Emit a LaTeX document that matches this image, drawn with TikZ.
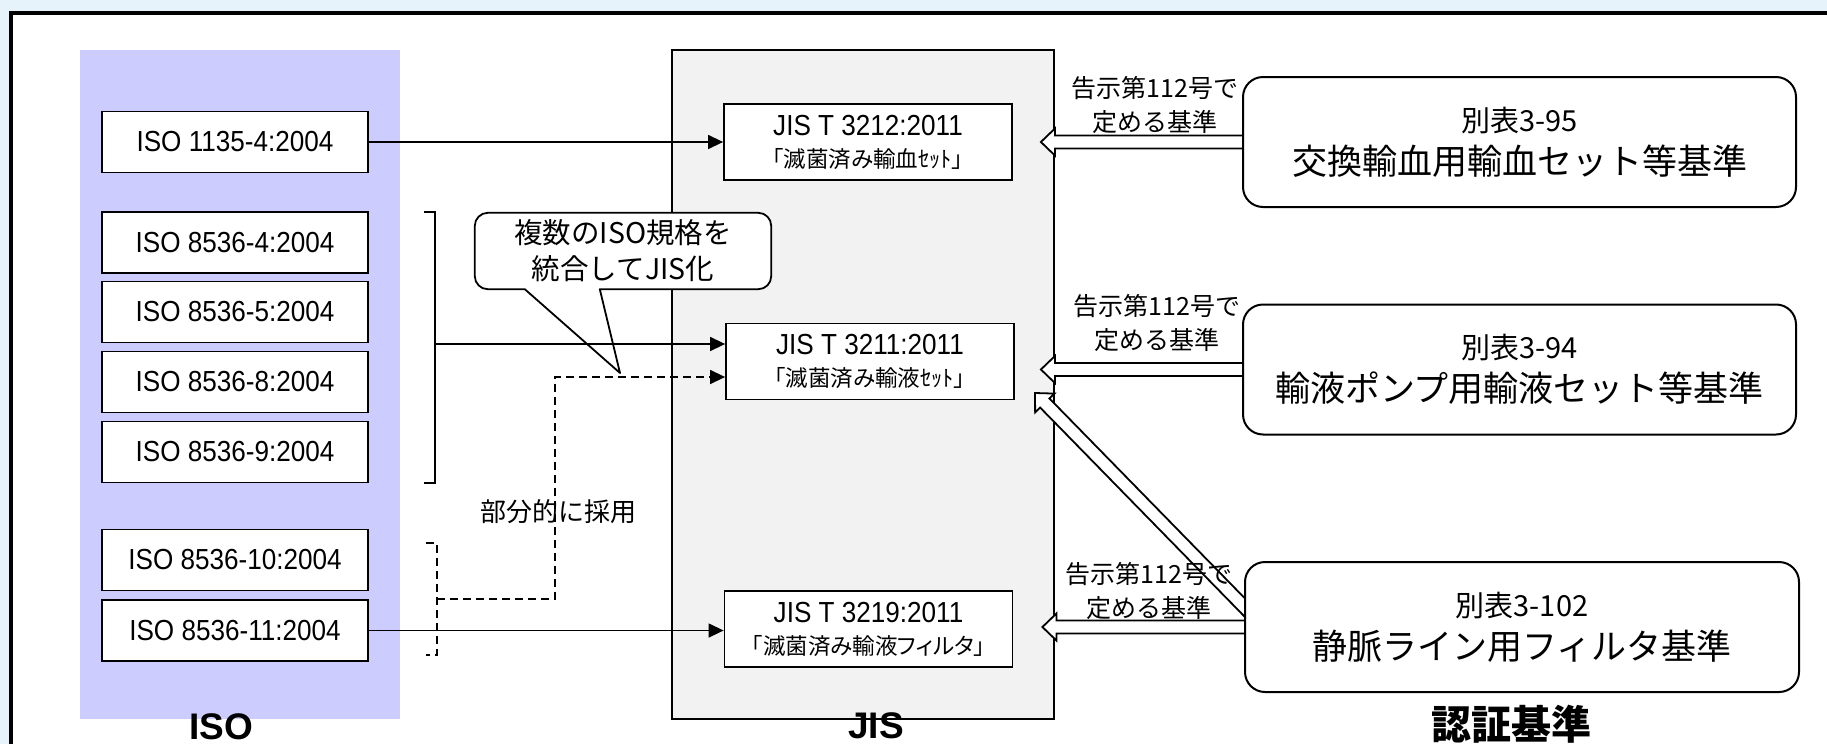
\documentclass[tikz,border=0pt]{standalone}
\usepackage{fontspec}
\setmainfont{Liberation Sans}
\newfontfamily\narrowsans[FakeStretch=0.9]{Liberation Sans}
\newfontfamily\jp{Noto Sans CJK JP}
\newfontfamily\jpp[RawFeature=+palt]{Noto Sans CJK JP}
\usetikzlibrary{arrows.meta,calc}
\definecolor{bgblue}{RGB}{230,243,250}
\definecolor{isofill}{RGB}{204,204,255}
\definecolor{jisfill}{RGB}{242,242,242}
\newcommand\fsz[2]{\fontsize{#1pt}{#2pt}\selectfont}
\newcommand{\blockarrow}[2]{%
\draw[barrow] let \p1=(#1), \p2=(#2), \n1={atan2(\y2-\y1,\x2-\x1)}, \n2={veclen(\x2-\x1,\y2-\y1)} in
 ([shift={(\p1)},rotate=\n1]0pt,-6.5pt) -- ([shift={(\p1)},rotate=\n1]\n2*1pt-14pt,-6.5pt)
 -- ([shift={(\p1)},rotate=\n1]\n2*1pt-14pt,-13.5pt) -- ([shift={(\p1)},rotate=\n1]\n2*1pt,0pt)
 -- ([shift={(\p1)},rotate=\n1]\n2*1pt-14pt,13.5pt) -- ([shift={(\p1)},rotate=\n1]\n2*1pt-14pt,6.5pt)
 -- ([shift={(\p1)},rotate=\n1]0pt,6.5pt) -- cycle;}
\begin{document}
\begin{tikzpicture}[x=1pt,y=-1pt,
  isobox/.style={draw, line width=1.6pt, fill=white, minimum width=266pt, minimum height=61pt, inner sep=0pt, font=\narrowsans\fsz{29}{34}},
  jisbox/.style={draw, line width=1.8pt, fill=white, minimum width=288pt, minimum height=76pt, inner sep=0pt, align=center, font=\narrowsans\fsz{29}{32}},
  jissub/.style={},
  critbox/.style={draw, line width=2pt, fill=white, rounded corners=20pt, minimum width=553pt, minimum height=130pt, inner sep=0pt, align=center, font=\jp\fsz{35}{43}},
  lbl/.style={inner sep=0pt, align=center, font=\jp\fsz{25}{34}},
  conn/.style={line width=1.4pt, -{Triangle[length=15pt,width=14pt]}},
  dconn/.style={conn, dash pattern=on 8pt off 5pt},
  barrow/.style={draw, fill=white, line width=1.8pt, line join=miter},
  hdr/.style={inner sep=0pt, font=\bfseries\fsz{37}{40}}
]
\useasboundingbox (0,0) rectangle (1827,744);
\fill[bgblue] (0,0) rectangle (1827,744);
\fill[white] (11,13) rectangle (1827,744);
\draw[line width=4pt] (11,744) -- (11,13) -- (1827,13);

% group panels
\node[fill=isofill, minimum width=320pt, minimum height=669pt, inner sep=0pt] (isogrp) at (240,384.5) {};
\node[draw, line width=1.8pt, fill=jisfill, minimum width=382pt, minimum height=669pt, inner sep=0pt] (jis) at (863,384.5) {};

% callout
\node[minimum width=296pt, minimum height=76pt, inner sep=0pt] (callout) at (623,251) {};
\coordinate (ctip) at (620,373);
\draw[line width=1.8pt, fill=white, line join=round] (ctip) -- ($(callout.south west)+(125,0)$)
  [rounded corners=13pt] -- (callout.south east) -- (callout.north east) -- (callout.north west) -- (callout.south west)
  [sharp corners] -- ($(callout.south west)+(50,0)$) -- cycle;
\node[lbl, font=\jp\fsz{28.5}{36}] (calltext) at (callout.center) {複数のISO規格を\\統合してJIS化};

% ISO boxes
\node[isobox] (iso1) at (235,142) {ISO 1135-4:2004};
\node[isobox] (iso2) at (235,242.5) {ISO 8536-4:2004};
\node[isobox] (iso3) at (235,312) {ISO 8536-5:2004};
\node[isobox] (iso4) at (235,382) {ISO 8536-8:2004};
\node[isobox] (iso5) at (235,452) {ISO 8536-9:2004};
\node[isobox] (iso6) at (235,560) {ISO 8536-10:2004};
\node[isobox] (iso7) at (235,630.5) {ISO 8536-11:2004};

% JIS boxes
\node[jisbox] (jA) at (868,142) {JIS T 3212:2011\\{\jpp\fsz{22.5}{32}「滅菌済み輸血ｾｯﾄ」}};
\node[jisbox] (jB) at (870,361.5) {JIS T 3211:2011\\{\jpp\fsz{22.5}{32}「滅菌済み輸液ｾｯﾄ」}};
\node[jisbox] (jC) at (868.5,629) {JIS T 3219:2011\\{\jpp\fsz{22.5}{32}「滅菌済み輸液フィルタ」}};

% connectors
\draw[conn] (iso1.east) -- (jA.west);
\coordinate (b1t) at (435,212);
\coordinate (b1b) at (435,483);
\coordinate (b1m) at (435,344);
\draw[line width=1.6pt] ($(b1t)+(-11,0)$) -- (b1t) -- (b1b) -- ($(b1b)+(-11,0)$);
\draw[conn] (b1m) -- (b1m -| jB.west);
\coordinate (b2t) at (437,543);
\coordinate (b2b) at (437,655);
\draw[line width=1.4pt, dash pattern=on 8pt off 5pt] ($(b2t)+(-11,0)$) -- (b2t) -- (b2b) -- ($(b2b)+(-11,0)$);
\coordinate (d0) at (437,599);
\coordinate (d1) at (555,599);
\coordinate (d2) at (555,377);
\draw[dconn] (d0) -- (d1) -- (d2) -- (d2 -| jB.west);
\draw[conn] (iso7.east) -- (iso7.east -| jC.west);
\node[lbl, font=\jp\fsz{26}{30}] (partial) at (558,512) {部分的に採用};

% criteria boxes (positions first for arrows)
\path (1519.5,142) coordinate (r1c) (1519.5,369.5) coordinate (r2c) (1522,627) coordinate (r3c);
\coordinate (r1w) at ($(r1c)+(-276.5,0)$);
\coordinate (r2w) at ($(r2c)+(-276.5,0)$);
\coordinate (r3w) at ($(r3c)+(-277,0)$);
\coordinate (t1) at ($(jis.east |- r1w)+(-14,0)$);
\coordinate (t2) at ($(jis.east |- r2w)+(-14,0)$);
\coordinate (t3) at ($(jis.east |- r3w)+(-12.5,0)$);
\coordinate (dtail) at ($(r3w)+(10,-9)$);
\coordinate (dtip) at (1035,393);
\blockarrow{$(r1w)+(6,0)$}{t1}
\blockarrow{$(r2w)+(6,0)$}{t2}
\blockarrow{$(r3w)+(6,0)$}{t3}
\blockarrow{dtail}{dtip}

\node[critbox] (r1) at (r1c) {{\fsz{29}{43}別表3-95}\\交換輸血用輸血セット等基準};
\node[critbox] (r2) at (r2c) {{\fsz{29}{43}別表3-94}\\輸液ポンプ用輸液セット等基準};
\node[critbox, minimum width=554pt] (r3) at (r3c) {{\fsz{29}{43}別表3-102}\\静脈ライン用フィルタ基準};

% labels
\node[lbl] (n1) at (1155,105) {告示第112号で\\定める基準};
\node[lbl] (n2) at (1157,323) {告示第112号で\\定める基準};
\node[lbl] (n3) at (1149,591) {告示第112号で\\定める基準};

% headers
\node[hdr] (isoh) at (221,727) {ISO};
\node[hdr] (jish) at (876,726) {JIS};
\node[hdr, font=\jp\bfseries\fsz{40}{44}] (crith) at (1511,724) {認証基準};
\end{tikzpicture}
\end{document}
